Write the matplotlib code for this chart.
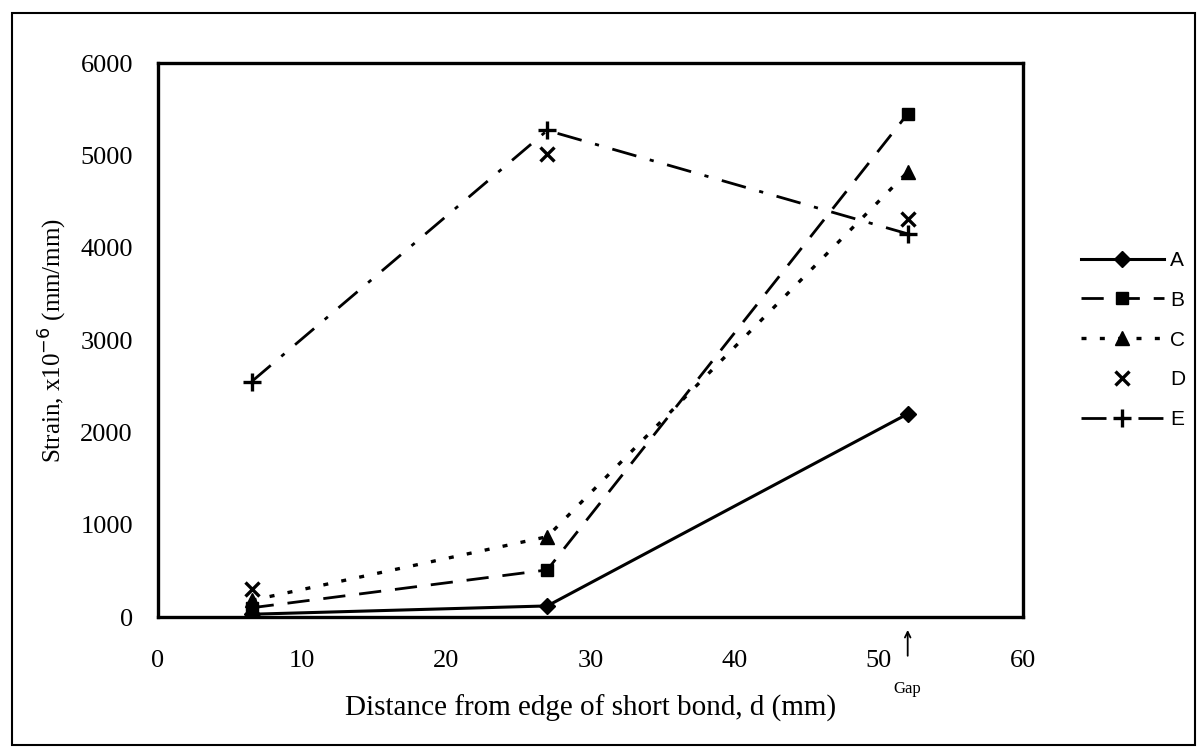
import matplotlib.pyplot as plt
from matplotlib.patches import Rectangle

# Data
distance = [6.5, 27, 52]
strain_a = [30, 120, 2200]
strain_b = [100, 510, 5450]
strain_c = [180, 870, 4820]
strain_d = [300, 5020, 4310]
strain_e = [2550, 5270, 4150]
x_ticks = [0, 10, 20, 30, 40, 50, 60]
y_ticks = [0, 1000, 2000, 3000, 4000, 5000, 6000]

serif = 'Liberation Serif'
sans = 'Liberation Sans'

fig = plt.figure(figsize=(12.03, 7.53), dpi=100)
ax = fig.add_axes([0.1313, 0.1806, 0.7191, 0.7357])

ax.plot(distance, strain_a, color='black', linestyle='-', linewidth=2.2,
        marker='D', markersize=8, label='A')
ax.plot(distance, strain_b, color='black', linestyle=(0, (8, 5)), linewidth=2,
        marker='s', markersize=9, label='B')
ax.plot(distance, strain_c, color='black', linestyle=(0, (1.5, 4)), linewidth=2.4,
        marker='^', markersize=10, label='C')
ax.plot(distance, strain_d, color='black', linestyle='none',
        marker='x', markersize=10, markeredgewidth=2.4, label='D')
ax.plot(distance, strain_e, color='black', linestyle=(0, (9, 5, 1.5, 5)), linewidth=2,
        marker='+', markersize=13, markeredgewidth=2.4, label='E')

ax.set_xlim(0, 60)
ax.set_ylim(0, 6000)
ax.set_xticks(x_ticks)
ax.set_yticks(y_ticks)
ax.tick_params(axis='y', length=0, pad=18, labelsize=19)
ax.tick_params(axis='x', length=0, pad=24, labelsize=19)
for lbl in ax.get_xticklabels() + ax.get_yticklabels():
    lbl.set_fontfamily(serif)
for s in ax.spines.values():
    s.set_linewidth(2.4)

ax.set_xlabel('Distance from edge of short bond, d (mm)', family=serif, fontsize=21, labelpad=16)
ax.set_ylabel(r'Strain, x10$^{-6}$ (mm/mm)', family=serif, fontsize=18, labelpad=8)

# Gap marker below the axis
ax.annotate('', xy=(52, -110), xytext=(52, -450), xycoords='data',
            arrowprops=dict(arrowstyle='->', color='black', lw=1.3), annotation_clip=False)
ax.text(52, -690, 'Gap', family=serif, fontsize=12, ha='center', va='top', clip_on=False)

leg = ax.legend(loc='center left', bbox_to_anchor=(1.045, 0.5), frameon=False,
                prop={'family': sans, 'size': 15}, handlelength=4.0,
                handletextpad=0.3, labelspacing=1.0)

# outer frame around the whole picture
fig.patches.append(Rectangle((0.01, 0.01), 0.983, 0.973, transform=fig.transFigure,
                             fill=False, edgecolor='black', linewidth=1.5))

fig.savefig('out.png', dpi=100)
